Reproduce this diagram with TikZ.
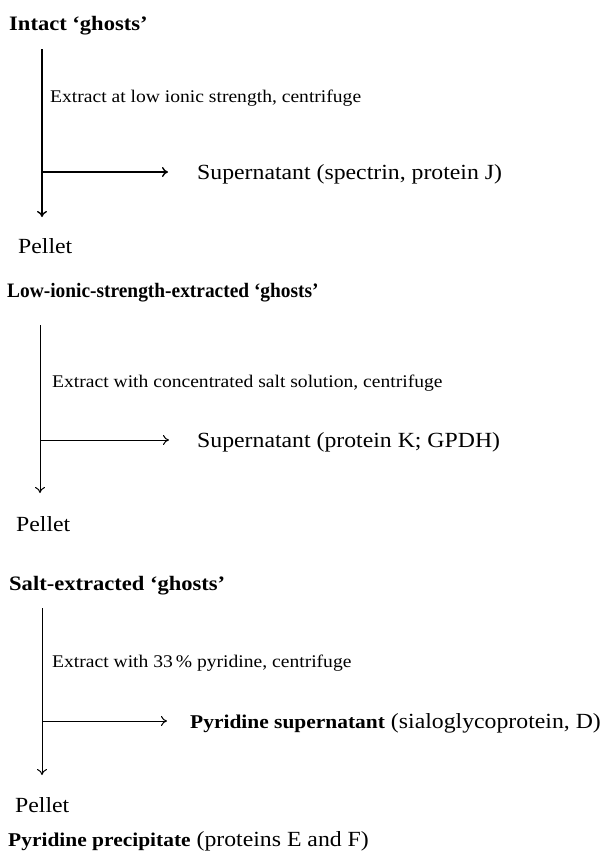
\documentclass[tikz,border=0pt]{standalone}
\usepackage{fontspec}
\usepackage{graphicx}
\setmainfont{Liberation Serif}[FakeStretch=1.1]
\usetikzlibrary{arrows.meta}
\tikzset{
  head/.style={anchor=base west, inner sep=0pt, font=\fontsize{20.5}{23}\selectfont\bfseries},
  prod/.style={anchor=base west, inner sep=0pt, font=\fontsize{21.6}{25}\selectfont},
  note/.style={anchor=base west, inner sep=0pt, font=\fontsize{17.8}{20}\selectfont},
  flow/.style={line width=1.4pt, -{To[length=6pt,width=10pt]}},
  thinflow/.style={line width=1.0pt, -{To[length=6pt,width=10pt]}},
}
\newcommand{\inb}[1]{\textbf{\fontsize{19.5}{22}\selectfont #1}}
\begin{document}
\begin{tikzpicture}[x=1pt,y=-1pt]
\fill[white] (0,0) rectangle (603,855);
\useasboundingbox (0,0) rectangle (603,855);

% Block 1
\node[head] (h1) at (9,30) {Intact ‘ghosts’};
\coordinate (t1) at (42,49);
\coordinate (m1) at (42,172);
\coordinate (b1) at (42,217);
\coordinate (e1) at (168,172);
\node[note] (n1) at (50,102) {Extract at low ionic strength, centrifuge};
\node[prod] (s1) at (197,179) {Supernatant (spectrin, protein J)};
\node[prod] (p1) at (18,253) {Pellet};
\draw[flow] (t1) -- (b1);
\draw[flow] (m1) -- (e1);

% Block 2
\node[head] (h2) at (7,297) {\scalebox{0.86}[1]{Low-ionic-strength-extracted ‘ghosts’}};
\coordinate (t2) at (40,325);
\coordinate (m2) at (40,440);
\coordinate (b2) at (40,493);
\coordinate (e2) at (169,440);
\node[note] (n2) at (52,387) {Extract with concentrated salt solution, centrifuge};
\node[prod] (s2) at (197,447) {Supernatant (protein K; GPDH)};
\node[prod] (p2) at (16,531) {Pellet};
\draw[thinflow] (t2) -- (b2);
\draw[thinflow] (m2) -- (e2);

% Block 3
\node[head] (h3) at (9,590) {Salt-extracted ‘ghosts’};
\coordinate (t3) at (42,608);
\coordinate (m3) at (42,721);
\coordinate (b3) at (42,775);
\coordinate (e3) at (167,721);
\node[note] (n3) at (52,667) {Extract with 33\,\% pyridine, centrifuge};
\node[prod] (s3) at (190,728) {\inb{Pyridine supernatant} (sialoglycoprotein, D)};
\node[prod] (p3) at (15,812) {Pellet};
\node[prod] (pp) at (8,846) {\inb{Pyridine precipitate} (proteins E and F)};
\draw[thinflow] (t3) -- (b3);
\draw[thinflow] (m3) -- (e3);
\end{tikzpicture}
\end{document}
